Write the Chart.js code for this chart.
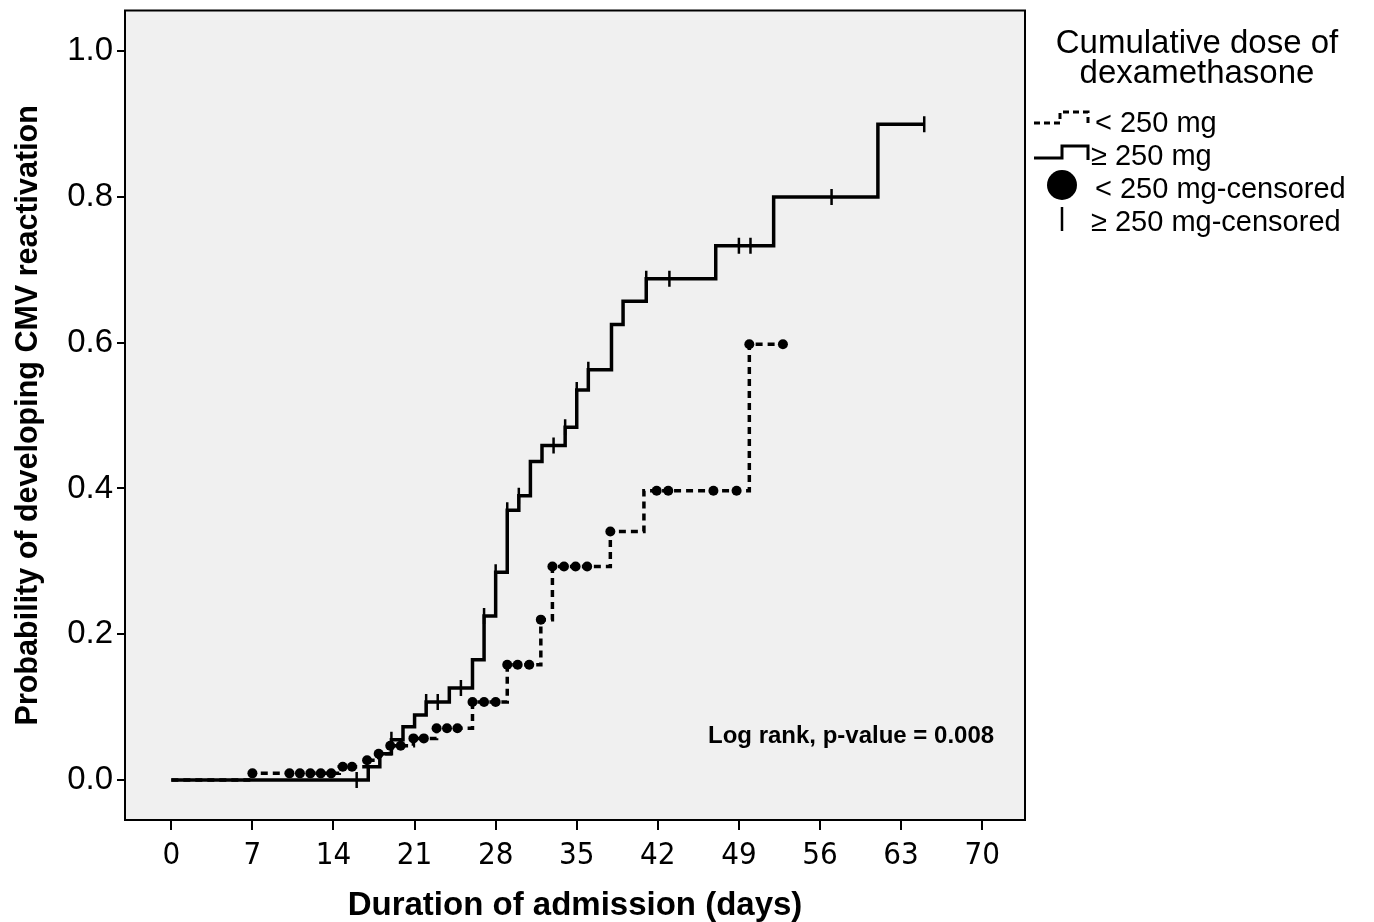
<!DOCTYPE html>
<html><head><meta charset="utf-8">
<script src="https://cdn.jsdelivr.net/npm/chart.js@4.4.0/dist/chart.umd.min.js"></script>
<style>html,body{margin:0;padding:0;background:#fff;overflow:hidden}#wrap{width:1374px;height:922px}</style>
</head><body><div id="wrap"><canvas id="c" width="1374" height="922"></canvas></div>
<script>
const xTicks = [0, 7, 14, 21, 28, 35, 42, 49, 56, 63, 70];
const yTicks = [0, 0.2, 0.4, 0.6, 0.8, 1.0];

// < 250 mg (dotted) step curve
const lowTimes = [0, 7, 14.5, 16.9, 17.9, 18.9, 20.9, 22.9, 26, 29, 31.9, 32.9, 37.9, 40.8, 49.9, 52.8];
const lowProb  = [0, 0.009, 0.018, 0.027, 0.036, 0.047, 0.057, 0.071, 0.107, 0.158, 0.22, 0.293, 0.341, 0.397, 0.598, 0.598];
const lowCensorTimes = [7, 10.2, 11.1, 12, 12.9, 13.8, 14.8, 15.6, 16.9, 17.9, 18.9, 19.8, 20.9, 21.8, 22.9, 23.8, 24.7, 26, 27, 28, 29, 29.9, 30.9, 31.9, 32.9, 33.9, 34.9, 35.9, 37.9, 41.9, 42.9, 46.8, 48.8, 49.9, 52.8];
const lowCensorProb  = [0.009, 0.009, 0.009, 0.009, 0.009, 0.009, 0.018, 0.018, 0.027, 0.036, 0.047, 0.047, 0.057, 0.057, 0.071, 0.071, 0.071, 0.107, 0.107, 0.107, 0.158, 0.158, 0.158, 0.22, 0.293, 0.293, 0.293, 0.293, 0.341, 0.397, 0.397, 0.397, 0.397, 0.598, 0.598];

// >= 250 mg (solid) step curve
const highTimes = [0, 17, 18, 19, 20, 21, 22, 24, 26, 27, 28, 29, 30, 31, 32, 34, 35, 36, 38, 39, 41, 47, 52, 61, 65];
const highProb  = [0, 0.018, 0.036, 0.055, 0.073, 0.089, 0.107, 0.126, 0.165, 0.225, 0.285, 0.37, 0.39, 0.437, 0.459, 0.484, 0.535, 0.563, 0.625, 0.657, 0.688, 0.733, 0.80, 0.90, 0.90];
const highCensorTimes = [16, 19, 22, 23, 25, 27, 28, 29, 30, 33, 34, 35, 36, 41, 43, 49, 50, 57, 65];
const highCensorProb  = [0, 0.055, 0.107, 0.107, 0.126, 0.225, 0.285, 0.37, 0.39, 0.459, 0.484, 0.535, 0.563, 0.688, 0.688, 0.733, 0.733, 0.80, 0.90];

const legendTitle = ['Cumulative dose of', 'dexamethasone'];
const legendLabels = ['< 250 mg', '\u2265 250 mg', '< 250 mg-censored', '\u2265 250 mg-censored'];
const annotationText = 'Log rank, p-value = 0.008';
const xTitle = 'Duration of admission (days)';
const yTitle = 'Probability of developing CMV reactivation';

const pts = (xs, ys) => xs.map((x, i) => ({x: x, y: ys[i]}));
const SANS = "'Liberation Sans', Arial, sans-serif";
const NARROW = "'Liberation Sans Narrow', 'DejaVu Sans Condensed', 'Liberation Sans', sans-serif";

const decor = {
  id: 'decor',
  beforeDraw(chart) {
    const {ctx, chartArea: a} = chart;
    ctx.save();
    ctx.fillStyle = '#ffffff';
    ctx.fillRect(0, 0, chart.width, chart.height);
    ctx.fillStyle = '#f0f0f0';
    ctx.fillRect(a.left, a.top, a.right - a.left, a.bottom - a.top);
    ctx.restore();
  },
  afterDraw(chart) {
    const {ctx, chartArea: a} = chart;
    ctx.save();
    ctx.strokeStyle = '#000'; ctx.lineWidth = 2;
    ctx.strokeRect(a.left, a.top, a.right - a.left, a.bottom - a.top);
    // annotation
    ctx.fillStyle = '#000';
    ctx.font = "bold 24px " + SANS;
    ctx.textAlign = 'left'; ctx.textBaseline = 'alphabetic';
    ctx.fillText(annotationText, 708, 743);
    // legend
    ctx.font = "33px " + SANS;
    ctx.textAlign = 'center';
    ctx.fillText(legendTitle[0], 1197, 53);
    ctx.fillText(legendTitle[1], 1197, 83);
    ctx.font = "29px " + SANS;
    ctx.textAlign = 'left';
    ctx.fillText(legendLabels[0], 1095, 132);
    ctx.fillText(legendLabels[1], 1091, 165);
    ctx.fillText(legendLabels[2], 1095, 198);
    ctx.fillText(legendLabels[3], 1091, 231);
    ctx.lineWidth = 3; ctx.strokeStyle = '#000';
    // dotted symbol
    ctx.setLineDash([6, 4]);
    ctx.beginPath();
    ctx.moveTo(1034, 123); ctx.lineTo(1060, 123); ctx.lineTo(1060, 112); ctx.lineTo(1088, 112); ctx.lineTo(1088, 123);
    ctx.stroke();
    ctx.setLineDash([]);
    // solid symbol
    ctx.beginPath();
    ctx.moveTo(1034, 158); ctx.lineTo(1062, 158); ctx.lineTo(1062, 146); ctx.lineTo(1088, 146); ctx.lineTo(1088, 160);
    ctx.stroke();
    // circle
    ctx.beginPath(); ctx.arc(1062, 185, 15, 0, Math.PI * 2); ctx.fill();
    // tick
    ctx.lineWidth = 2.5;
    ctx.beginPath(); ctx.moveTo(1062, 207); ctx.lineTo(1062, 231); ctx.stroke();
    ctx.restore();
  }
};

new Chart(document.getElementById('c'), {
  type: 'line',
  data: {
    datasets: [
      { label: legendLabels[1], data: pts(highTimes, highProb), stepped: true, borderColor: '#000', borderWidth: 3.5, pointRadius: 0, fill: false, order: 3 },
      { label: legendLabels[0], data: pts(lowTimes, lowProb), stepped: true, borderColor: '#000', borderWidth: 3.5, borderDash: [7, 5], pointRadius: 0, fill: false, order: 2 },
      { label: legendLabels[2], data: pts(lowCensorTimes, lowCensorProb), showLine: false, pointStyle: 'circle', pointRadius: 5, backgroundColor: '#000', borderColor: '#000', borderWidth: 0, order: 1 },
      { label: legendLabels[3], data: pts(highCensorTimes, highCensorProb), showLine: false, pointStyle: 'line', rotation: 90, pointRadius: 8, borderColor: '#000', borderWidth: 2.5, order: 0 }
    ]
  },
  options: {
    responsive: false, animation: false, devicePixelRatio: 1,
    layout: { padding: { top: 10, right: 349, left: 0, bottom: 0 } },
    plugins: { legend: { display: false }, tooltip: { enabled: false } },
    scales: {
      x: {
        type: 'linear', min: -4, max: 73.7,
        afterBuildTicks: s => { s.ticks = xTicks.map(v => ({value: v})); },
        afterFit: s => { s.height = 102; s.paddingLeft = 0; s.paddingRight = 0; },
        ticks: { font: { family: NARROW, size: 31 }, color: '#000', padding: 7, autoSkip: false, maxRotation: 0, callback: v => String(v) },
        grid: { drawOnChartArea: false, drawTicks: true, tickLength: 10, color: '#000', lineWidth: 2 },
        border: { display: true, color: '#000', width: 2 },
        title: { display: true, text: xTitle, color: '#000', font: { family: SANS, size: 33, weight: 'bold', lineHeight: 1.0 }, padding: { top: 0, bottom: 0 } }
      },
      y: {
        type: 'linear', min: -0.055, max: 1.056,
        afterBuildTicks: s => { s.ticks = yTicks.map(v => ({value: v})); },
        afterFit: s => { s.width = 125; s.paddingTop = 0; s.paddingBottom = 0; },
        ticks: { font: { family: SANS, size: 33 }, color: '#000', padding: 4, callback: v => Number(v).toFixed(1) },
        grid: { drawOnChartArea: false, drawTicks: true, tickLength: 8, color: '#000', lineWidth: 2 },
        border: { display: true, color: '#000', width: 2 },
        title: { display: true, text: yTitle, color: '#000', font: { family: SANS, size: 30.5, weight: 'bold' }, padding: { top: 10, bottom: 0 } }
      }
    }
  },
  plugins: [decor]
});
</script></body></html>
